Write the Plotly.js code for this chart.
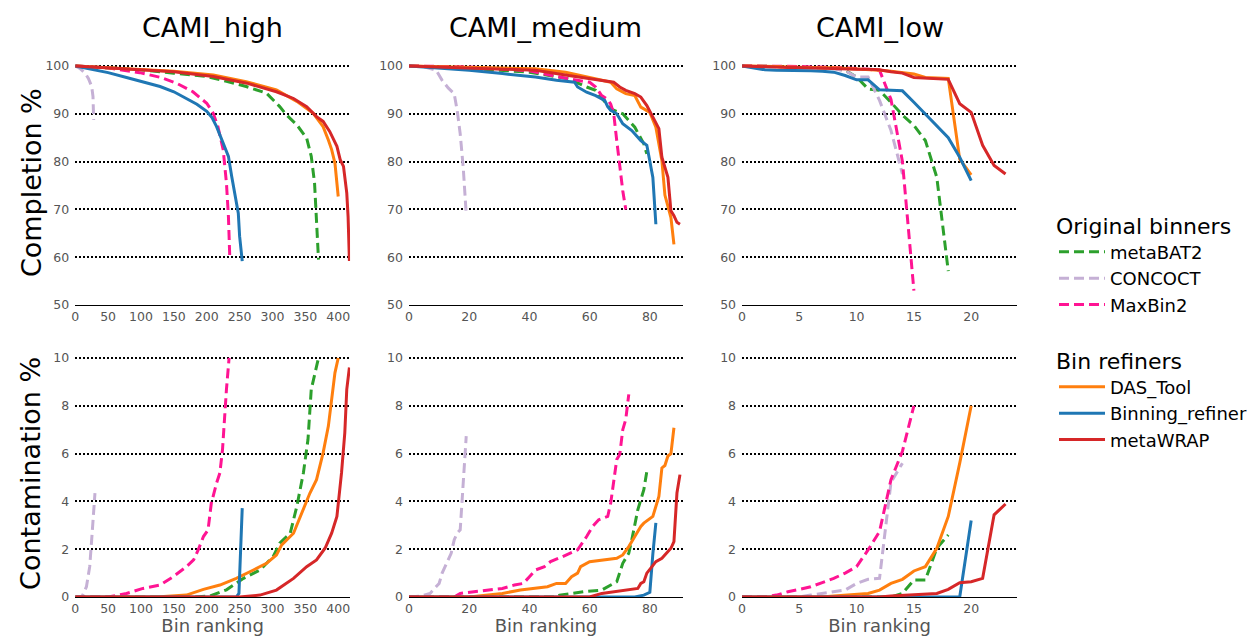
<!DOCTYPE html>
<html>
<head>
<meta charset="utf-8">
<script src="https://cdn.plot.ly/plotly-3.0.1.min.js"></script>
<style>html,body{margin:0;padding:0;background:#fff;}#chart{width:1252px;height:636px;}</style>
</head>
<body>
<div id="chart"></div>
<script>
// ---------- Data ----------
const panelTitles = ['CAMI_high', 'CAMI_medium', 'CAMI_low'];
const rowTitles = ['Completion %', 'Contamination %'];
const binnerNames = ['metaBAT2', 'CONCOCT', 'MaxBin2'];
const refinerNames = ['DAS_Tool', 'Binning_refiner', 'metaWRAP'];

// CAMI_high – completion
const highCompMetaBAT2X = [0, 50, 100, 150, 200, 230, 260, 291, 311, 321, 337, 352, 359, 364, 367, 370];
const highCompMetaBAT2Y = [100, 99.6, 99.2, 98.5, 97.8, 96.8, 95.7, 94.3, 91.5, 89.8, 87.7, 84.9, 81.1, 75.5, 68.5, 59.5];
const highCompCONCOCTX = [0, 7, 15, 20, 25, 27, 28];
const highCompCONCOCTY = [100, 99.5, 98.5, 97.4, 95.7, 93.6, 88.7];
const highCompMaxBin2X = [0, 50, 98, 130, 154, 179, 200, 210, 217, 225, 230, 233, 235];
const highCompMaxBin2Y = [100, 99.6, 98.6, 97.6, 96.4, 94.6, 92.2, 90.1, 87.3, 82.5, 75.5, 68.5, 60.2];
const highCompDASX = [0, 78, 150, 210, 260, 306, 337, 362, 377, 385, 390, 395, 398, 400];
const highCompDASY = [100, 99.5, 98.9, 98.1, 96.7, 95.0, 92.6, 90.1, 87.3, 84.5, 82.5, 79.7, 76.2, 72.7];
const highCompBRX = [0, 27, 50, 78, 100, 129, 150, 169, 185, 200, 208, 215, 225, 233, 238, 243, 248, 250, 254];
const highCompBRY = [100, 99.2, 98.6, 97.6, 96.8, 95.7, 94.6, 93.2, 92.0, 90.5, 89.2, 87.3, 83.9, 81.1, 76.9, 73.4, 69.2, 64.4, 59.2];
const highCompMWX = [0, 78, 150, 210, 261, 306, 332, 352, 367, 377, 387, 398, 403, 408, 411, 413, 415, 416, 417];
const highCompMWY = [100, 99.4, 98.8, 97.8, 96.4, 94.6, 93.2, 91.5, 89.4, 88.4, 86.3, 83.2, 80.4, 79.0, 76.0, 73.4, 68.5, 64.0, 59.2];

// CAMI_high – contamination
const highContMetaBAT2X = [0, 180, 205, 230, 256, 281, 301, 311, 327, 337, 347, 354, 359, 365, 370];
const highContMetaBAT2Y = [0, 0, 0.04, 0.3, 0.78, 1.13, 1.69, 2.25, 2.67, 3.79, 5.19, 6.59, 8.69, 9.38, 10];
const highContCONCOCTX = [0, 10, 17, 22, 25, 27, 30];
const highContCONCOCTY = [0, 0, 0.43, 1.27, 2.4, 3.37, 4.35];
const highContMaxBin2X = [0, 50, 78, 103, 129, 149, 169, 180, 187, 195, 202, 207, 215, 220, 224, 226, 230, 234];
const highContMaxBin2Y = [0, 0, 0.15, 0.36, 0.5, 0.85, 1.27, 1.55, 1.97, 2.53, 2.81, 3.93, 4.77, 5.19, 6.17, 7.08, 8.69, 10];
const highContDASX = [0, 129, 169, 195, 220, 245, 271, 291, 306, 314, 332, 347, 357, 367, 377, 385, 390, 395, 400];
const highContDASY = [0, 0.01, 0.08, 0.32, 0.5, 0.78, 1.13, 1.41, 1.76, 2.18, 2.67, 3.65, 4.35, 4.91, 6.03, 7.15, 8.27, 9.38, 10];
const highContBRX = [0, 245, 249, 250, 252, 254];
const highContBRY = [0, 0, 0.15, 1.0, 2.4, 3.72];
const highContMWX = [0, 250, 281, 306, 332, 352, 367, 380, 390, 398, 405, 410, 413, 417];
const highContMWY = [0, 0, 0.08, 0.29, 0.78, 1.27, 1.55, 2.04, 2.67, 3.37, 5.19, 6.87, 8.69, 9.6];

// CAMI_medium – completion
const medCompMetaBAT2X = [0, 20, 40, 53, 59, 62, 67, 71, 75, 78, 79];
const medCompMetaBAT2Y = [100, 99.5, 98.7, 97.3, 95.6, 94.9, 91.0, 90.0, 87.2, 83.7, 81.6];
const medCompCONCOCTX = [0, 5, 9, 11, 13, 15, 16, 17, 18, 19];
const medCompCONCOCTY = [100, 99.8, 99.1, 97.0, 95.4, 94.2, 90.7, 85.8, 78.8, 69.0];
const medCompMaxBin2X = [0, 20, 40, 53, 60, 62, 64, 66, 67, 68, 69, 70, 71, 72];
const medCompMaxBin2Y = [100, 99.8, 99.0, 97.3, 96.6, 95.6, 93.8, 93.0, 92.0, 90.0, 84.4, 78.8, 73.9, 70.0];
const medCompDASX = [0, 42, 52, 62, 67, 69, 72, 75, 77, 80, 82, 84, 85, 87, 88];
const medCompDASY = [100, 99.4, 98.7, 97.3, 96.6, 95.2, 94.2, 93.8, 91.4, 90.3, 87.2, 80.2, 73.0, 68.3, 62.7];
const medCompBRX = [0, 20, 31, 42, 49, 53, 55, 56, 59, 62, 65, 66, 67, 69, 71, 74, 77, 79, 80, 81, 82];
const medCompBRY = [100, 99.1, 98.4, 97.7, 97.0, 96.7, 96.6, 95.6, 94.5, 93.8, 92.8, 91.5, 90.7, 90.0, 87.9, 86.5, 84.4, 83.4, 80.0, 76.7, 66.9];
const medCompMWX = [0, 42, 53, 64, 68, 70, 72, 75, 77, 79, 81, 83, 84, 86, 87, 88, 89, 90];
const medCompMWY = [100, 99.1, 98.0, 97.0, 96.6, 95.6, 94.9, 94.2, 93.5, 91.7, 89.3, 86.9, 80.9, 76.7, 69.7, 68.7, 67.3, 66.9];

// CAMI_medium – contamination
const medContMetaBAT2X = [0, 49, 50, 58, 64, 67, 69, 71, 73, 74, 76, 78, 79];
const medContMetaBAT2Y = [0, 0, 0.08, 0.22, 0.29, 0.5, 0.64, 1.41, 1.83, 2.39, 3.65, 4.49, 5.26];
const medContCONCOCTX = [0, 4, 7, 10, 11, 14, 15, 16, 17, 18, 19];
const medContCONCOCTY = [0, 0.04, 0.15, 0.57, 1.0, 1.83, 2.39, 2.67, 2.81, 5.0, 6.73];
const medContMaxBin2X = [0, 15, 17, 31, 35, 38, 40, 42, 45, 47, 51, 56, 59, 61, 63, 66, 67, 68, 69, 70, 71, 72, 73];
const medContMaxBin2Y = [0, 0, 0.15, 0.36, 0.5, 0.57, 0.85, 1.13, 1.27, 1.48, 1.69, 1.97, 2.53, 2.95, 3.23, 3.37, 3.93, 4.91, 5.75, 5.96, 7.0, 7.43, 8.48];
const medContDASX = [0, 20, 31, 37, 46, 49, 52, 54, 56, 57, 60, 64, 69, 71, 73, 75, 77, 78, 80, 81, 83, 84, 85, 86, 87, 88];
const medContDASY = [0, 0, 0.15, 0.29, 0.43, 0.57, 0.57, 0.85, 1.0, 1.27, 1.48, 1.55, 1.62, 1.76, 2.11, 2.53, 2.95, 3.09, 3.3, 3.37, 4.21, 5.4, 5.5, 5.9, 6.0, 7.08];
const medContBRX = [0, 75, 78, 80, 81, 82];
const medContBRY = [0, 0, 0.08, 0.2, 1.8, 3.1];
const medContMWX = [0, 60, 64, 71, 76, 77, 78, 79, 81, 82, 84, 85, 87, 88, 89, 90];
const medContMWY = [0, 0, 0.15, 0.29, 0.36, 0.57, 0.64, 1.0, 1.34, 1.48, 1.62, 1.76, 2.04, 2.32, 4.35, 5.12];

// CAMI_low – completion (bin ranking 0..N)
const lowCompMetaBAT2X = [0, 1, 2, 3, 4, 5, 6, 7, 8, 9, 10, 11, 12, 13, 14, 15, 16, 17, 18];
const lowCompMetaBAT2Y = [100, 100, 99.9, 99.9, 99.8, 99.8, 99.7, 99.6, 99.5, 99.1, 97.7, 95.2, 94.9, 92.4, 89.7, 87.6, 84.4, 76.7, 57.1];
const lowCompCONCOCTX = [0, 1, 2, 3, 4, 5, 6, 7, 8, 9, 10, 11, 12, 13, 14];
const lowCompCONCOCTY = [100, 100, 99.9, 99.9, 99.8, 99.8, 99.7, 99.6, 99.4, 99.0, 97.7, 97.7, 92.8, 86.5, 77.4];
const lowCompMaxBin2X = [0, 1, 2, 3, 4, 5, 6, 7, 8, 9, 10, 11, 12, 13, 14, 15];
const lowCompMaxBin2Y = [100, 100, 100, 100, 99.9, 99.9, 99.8, 99.8, 99.7, 99.6, 99.5, 99.3, 99.1, 93.0, 80.0, 53.0];
const lowCompDASX = [0, 1, 2, 3, 4, 5, 6, 7, 8, 9, 10, 11, 12, 13, 14, 15, 16, 17, 18, 19, 20];
const lowCompDASY = [100, 100, 99.9, 99.9, 99.8, 99.7, 99.7, 99.6, 99.6, 99.5, 99.3, 99.2, 99.1, 98.9, 98.6, 98.3, 97.6, 97.5, 97.4, 80.5, 77.2];
const lowCompBRX = [0, 1, 2, 3, 4, 5, 6, 7, 8, 9, 10, 11, 12, 13, 14, 15, 16, 17, 18, 19, 20];
const lowCompBRY = [100, 99.6, 99.2, 99.1, 99.1, 99.0, 99.0, 98.9, 98.7, 98.0, 97.1, 97.1, 95.0, 94.9, 94.8, 92.4, 90.0, 87.5, 85.0, 80.9, 76.0];
const lowCompMWX = [0, 1, 2, 3, 4, 5, 6, 7, 8, 9, 10, 11, 12, 13, 14, 15, 16, 17, 18, 19, 20, 21, 22, 23];
const lowCompMWY = [100, 99.9, 99.8, 99.8, 99.7, 99.7, 99.6, 99.6, 99.5, 99.4, 99.3, 99.3, 99.2, 98.8, 98.5, 97.6, 97.5, 97.4, 97.2, 92.1, 90.3, 83.4, 79.2, 77.4];

// CAMI_low – contamination
const lowContMetaBAT2Y = [0, 0, 0, 0, 0, 0, 0, 0, 0, 0, 0, 0, 0, 0, 0.15, 0.71, 0.71, 2.04, 2.6];
const lowContCONCOCTY = [0, 0, 0, 0, 0, 0, 0.08, 0.15, 0.22, 0.29, 0.57, 0.74, 0.78, 4.8, 5.6];
const lowContMaxBin2Y = [0, 0, 0, 0.08, 0.22, 0.32, 0.43, 0.6, 0.78, 1.0, 1.27, 1.97, 2.74, 4.91, 6.1, 8.0];
const lowContDASY = [0, 0, 0, 0, 0, 0, 0, 0, 0.04, 0.08, 0.13, 0.15, 0.29, 0.57, 0.74, 1.09, 1.27, 2.04, 3.37, 5.6, 8.0];
const lowContBRY = [0, 0, 0, 0, 0, 0, 0, 0, 0, 0, 0, 0, 0, 0, 0, 0, 0, 0, 0, 0, 3.2];
const lowContMWY = [0, 0, 0, 0, 0, 0, 0, 0, 0, 0, 0, 0, 0, 0.04, 0.07, 0.11, 0.15, 0.15, 0.32, 0.6, 0.64, 0.78, 3.44, 3.89];

// ---------- Styles ----------
const FONT = 'DejaVu Sans';
const colors = {metaBAT2: '#2ca02c', CONCOCT: '#c5b0d5', MaxBin2: '#ff1493',
                DAS_Tool: '#ff7f0e', Binning_refiner: '#1f77b4', metaWRAP: '#d62728'};
const DASH = '10px,5px';

const panels = [
  ['x', 'y', [[highCompMetaBAT2X, highCompMetaBAT2Y], [highCompCONCOCTX, highCompCONCOCTY], [highCompMaxBin2X, highCompMaxBin2Y],
              [highCompDASX, highCompDASY], [highCompBRX, highCompBRY], [highCompMWX, highCompMWY]]],
  ['x2', 'y2', [[medCompMetaBAT2X, medCompMetaBAT2Y], [medCompCONCOCTX, medCompCONCOCTY], [medCompMaxBin2X, medCompMaxBin2Y],
                [medCompDASX, medCompDASY], [medCompBRX, medCompBRY], [medCompMWX, medCompMWY]]],
  ['x3', 'y3', [[lowCompMetaBAT2X, lowCompMetaBAT2Y], [lowCompCONCOCTX, lowCompCONCOCTY], [lowCompMaxBin2X, lowCompMaxBin2Y],
                [lowCompDASX, lowCompDASY], [lowCompBRX, lowCompBRY], [lowCompMWX, lowCompMWY]]],
  ['x4', 'y4', [[highContMetaBAT2X, highContMetaBAT2Y], [highContCONCOCTX, highContCONCOCTY], [highContMaxBin2X, highContMaxBin2Y],
                [highContDASX, highContDASY], [highContBRX, highContBRY], [highContMWX, highContMWY]]],
  ['x5', 'y5', [[medContMetaBAT2X, medContMetaBAT2Y], [medContCONCOCTX, medContCONCOCTY], [medContMaxBin2X, medContMaxBin2Y],
                [medContDASX, medContDASY], [medContBRX, medContBRY], [medContMWX, medContMWY]]],
  ['x6', 'y6', [[lowCompMetaBAT2X, lowContMetaBAT2Y], [lowCompCONCOCTX, lowContCONCOCTY], [lowCompMaxBin2X, lowContMaxBin2Y],
                [lowCompDASX, lowContDASY], [lowCompBRX, lowContBRY], [lowCompMWX, lowContMWY]]]
];

const allNames = binnerNames.concat(refinerNames);
const traces = [];
panels.forEach(function (p, pi) {
  p[2].forEach(function (s, si) {
    const name = allNames[si];
    const isBinner = si < 3;
    traces.push({
      type: 'scatter', mode: 'lines', x: s[0], y: s[1], name: name,
      xaxis: p[0], yaxis: p[1],
      line: {color: colors[name], width: 3, dash: isBinner ? DASH : 'solid'},
      legend: isBinner ? 'legend' : 'legend2',
      legendgroup: name, showlegend: pi === 0,
      hoverinfo: 'x+y+name'
    });
  });
});

const tickFont = {family: FONT, size: 12.5, color: '#555'};
const xDomains = [[0.0601, 0.2796], [0.3267, 0.5455], [0.5927, 0.8123]];
const topDomain = [0.5204, 0.9038];
const botDomain = [0.0613, 0.4484];
const xRanges = [[0, 418], [0, 91], [0, 24]];
const xDticks = [50, 20, 5];

function xAxis(i, yanchor, withTitle) {
  const a = {
    domain: xDomains[i], range: xRanges[i], anchor: yanchor, dtick: xDticks[i], tick0: 0,
    showline: true, linecolor: '#000', linewidth: 1.3, showgrid: false, zeroline: false,
    ticks: '', tickfont: tickFont, fixedrange: true
  };
  if (withTitle) a.title = {text: 'Bin ranking', font: {family: FONT, size: 18, color: '#555'}, standoff: 2};
  return a;
}
function yAxis(dom, range, tvals, xanchor) {
  return {
    domain: dom, range: range, anchor: xanchor, tickvals: tvals,
    showline: false, showgrid: true, gridcolor: '#000', gridwidth: 1.5, griddash: '2px,2px',
    zeroline: false, ticks: '', tickfont: tickFont, ticklabelstandoff: 5, fixedrange: true
  };
}
const topTicks = [50, 60, 70, 80, 90, 100];
const botTicks = [0, 2, 4, 6, 8, 10];

const annotations = panelTitles.map(function (t, i) {
  return {text: t, xref: (i === 0 ? 'x' : 'x' + (i + 1)) + ' domain', yref: 'paper', x: 0.5, y: 1 - 27 / 636,
          xanchor: 'center', yanchor: 'middle', showarrow: false, font: {family: FONT, size: 27, color: '#000'}};
});
[['y domain', rowTitles[0]], ['y4 domain', rowTitles[1]]].forEach(function (r) {
  annotations.push({text: r[1], xref: 'paper', yref: r[0], x: 31 / 1252, y: 0.5, xanchor: 'center', yanchor: 'middle',
                    textangle: -90, showarrow: false, font: {family: FONT, size: 27, color: '#000'}});
});

const legendCommon = {
  xanchor: 'left', yanchor: 'top', x: 1054 / 1252,
  font: {family: FONT, size: 18, color: '#000'}, itemwidth: 46, tracegroupgap: 0,
  bgcolor: 'rgba(0,0,0,0)', borderwidth: 0, itemclick: false, itemdoubleclick: false
};

const layout = {
  width: 1252, height: 636,
  margin: {l: 0, r: 0, t: 0, b: 0},
  paper_bgcolor: '#fff', plot_bgcolor: '#fff',
  font: {family: FONT, color: '#000'},
  xaxis: xAxis(0, 'y', false), xaxis2: xAxis(1, 'y2', false), xaxis3: xAxis(2, 'y3', false),
  xaxis4: xAxis(0, 'y4', true), xaxis5: xAxis(1, 'y5', true), xaxis6: xAxis(2, 'y6', true),
  yaxis: yAxis(topDomain, [50, 101], topTicks, 'x'),
  yaxis2: yAxis(topDomain, [50, 101], topTicks, 'x2'),
  yaxis3: yAxis(topDomain, [50, 101], topTicks, 'x3'),
  yaxis4: yAxis(botDomain, [0, 10.3], botTicks, 'x4'),
  yaxis5: yAxis(botDomain, [0, 10.3], botTicks, 'x5'),
  yaxis6: yAxis(botDomain, [0, 10.3], botTicks, 'x6'),
  annotations: annotations,
  legend: Object.assign({}, legendCommon, {
    title: {text: 'Original binners', font: {family: FONT, size: 22, color: '#000'}},
    y: 1 - 205 / 636
  }),
  legend2: Object.assign({}, legendCommon, {
    title: {text: 'Bin refiners', font: {family: FONT, size: 22, color: '#000'}},
    y: 1 - 340 / 636
  }),
  showlegend: true
};

Plotly.newPlot('chart', traces, layout, {displayModeBar: false});
</script>
</body>
</html>
